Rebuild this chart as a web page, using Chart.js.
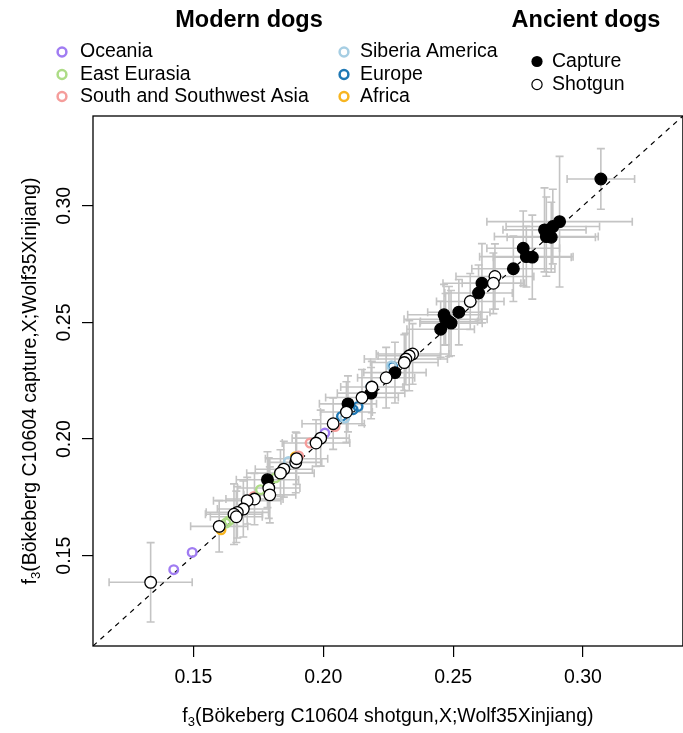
<!DOCTYPE html>
<html>
<head>
<meta charset="utf-8">
<script src="https://cdn.jsdelivr.net/npm/chart.js@4.4.1/dist/chart.umd.min.js"></script>
<style>
  html, body { margin: 0; padding: 0; overflow: hidden; background: #fff; }
  #f3Chart { display: block; }
</style>
</head>
<body>
<canvas id="f3Chart" width="690" height="733"></canvas>
<script>
// tick marks, same on both axes
const tickValues = [0.15, 0.20, 0.25, 0.30];
const tickLabels = ['0.15', '0.20', '0.25', '0.30'];

// ancient dogs typed by capture: x = shotgun f3, y = capture f3, with standard errors
const captureX = [0.3069, 0.2910, 0.2884, 0.2852, 0.2859, 0.2878, 0.2770, 0.2782, 0.2805, 0.2732, 0.2611,
  0.2598, 0.2522, 0.2465, 0.2484, 0.2452, 0.2471, 0.2492, 0.2276, 0.2184, 0.2095, 0.1785];
const captureY = [0.3115, 0.2932, 0.2911, 0.2897, 0.2868, 0.2865, 0.2818, 0.2782, 0.2780, 0.2730, 0.2668,
  0.2626, 0.2544, 0.2533, 0.2504, 0.2471, 0.2514, 0.2497, 0.2285, 0.2197, 0.2151, 0.1826];
const captureXErr = [0.013, 0.028, 0.018, 0.016, 0.020, 0.017, 0.014, 0.018, 0.015, 0.016, 0.015,
  0.013, 0.012, 0.014, 0.011, 0.013, 0.016, 0.012, 0.012, 0.013, 0.011, 0.012];
const captureYErr = [0.013, 0.028, 0.016, 0.018, 0.017, 0.015, 0.016, 0.013, 0.018, 0.014, 0.017,
  0.012, 0.014, 0.013, 0.015, 0.012, 0.011, 0.014, 0.013, 0.011, 0.012, 0.012];

// ancient dogs typed by shotgun
const shotgunX = [0.2661, 0.2655, 0.2566, 0.2344, 0.2331, 0.2318, 0.2312, 0.2242, 0.2187, 0.2149, 0.2089,
  0.2038, 0.1990, 0.1972, 0.1894, 0.1897, 0.1848, 0.1835, 0.1790, 0.1794, 0.1735, 0.1707, 0.1692,
  0.1669, 0.1656, 0.1665, 0.1599, 0.1335];
const shotgunY = [0.2697, 0.2668, 0.2590, 0.2365, 0.2357, 0.2343, 0.2328, 0.2263, 0.2223, 0.2178, 0.2116,
  0.2066, 0.2004, 0.1983, 0.1900, 0.1916, 0.1871, 0.1854, 0.1790, 0.1761, 0.1743, 0.1736, 0.1700,
  0.1686, 0.1678, 0.1667, 0.1626, 0.1386];
const shotgunXErr = [0.015, 0.012, 0.013, 0.014, 0.012, 0.016, 0.013, 0.011, 0.012, 0.014, 0.010,
  0.012, 0.011, 0.013, 0.010, 0.012, 0.011, 0.013, 0.012, 0.010, 0.011, 0.013, 0.010,
  0.012, 0.011, 0.010, 0.011, 0.016];
const shotgunYErr = [0.014, 0.013, 0.012, 0.013, 0.015, 0.011, 0.012, 0.013, 0.011, 0.012, 0.013,
  0.011, 0.012, 0.010, 0.013, 0.011, 0.012, 0.010, 0.013, 0.012, 0.011, 0.010, 0.012,
  0.011, 0.013, 0.011, 0.011, 0.017];

// modern dogs by region
const oceaniaX = [0.1424, 0.1495, 0.2006];
const oceaniaY = [0.1440, 0.1514, 0.2026];
const eastEurasiaX = [0.1625, 0.1637, 0.1758, 0.1816];
const eastEurasiaY = [0.1640, 0.1650, 0.1783, 0.1834];
const southAsiaX = [0.1733, 0.1905, 0.1949, 0.2045];
const southAsiaY = [0.1754, 0.1928, 0.1983, 0.2054];
const siberiaAmericaX = [0.1866, 0.2083, 0.2263];
const siberiaAmericaY = [0.1904, 0.2090, 0.2314];
const europeX = [0.2070, 0.2115, 0.2134, 0.2184, 0.2267];
const europeY = [0.2097, 0.2126, 0.2140, 0.2225, 0.2311];
const africaX = [0.1606, 0.1892];
const africaY = [0.1611, 0.1924];

const modernRegions = ['Oceania', 'East Eurasia', 'South and Southwest Asia', 'Siberia America', 'Europe', 'Africa'];
const modernColors = ['#a07cf2', '#addc86', '#f59d9b', '#a6cee3', '#1f78b4', '#f7b521'];
const modernXs = [oceaniaX, eastEurasiaX, southAsiaX, siberiaAmericaX, europeX, africaX];
const modernYs = [oceaniaY, eastEurasiaY, southAsiaY, siberiaAmericaY, europeY, africaY];

const axisMin = 0.1113;
const axisMax = 0.3385;
const FONT = '"Liberation Sans", Arial, Helvetica, sans-serif';

function ancientPoints(xs, ys, xErr, yErr) {
  return xs.map((x, i) => ({ x, y: ys[i], xErr: xErr[i], yErr: yErr[i] }));
}

const errorBarPlugin = {
  id: 'errorBars',
  beforeDatasetsDraw(chart) {
    const { ctx } = chart;
    const xs = chart.scales.x;
    const ys = chart.scales.y;
    const cap = 4;

    ctx.save();
    ctx.strokeStyle = '#c4c4c4';
    ctx.lineWidth = 1.6;
    chart.data.datasets.forEach((ds) => {
      if (!ds.errorBars) {
        return;
      }
      ds.data.forEach((p) => {
        const px = xs.getPixelForValue(p.x);
        const py = ys.getPixelForValue(p.y);
        const left = xs.getPixelForValue(p.x - p.xErr);
        const right = xs.getPixelForValue(p.x + p.xErr);
        const top = ys.getPixelForValue(p.y + p.yErr);
        const bottom = ys.getPixelForValue(p.y - p.yErr);

        ctx.beginPath();
        ctx.moveTo(left, py); ctx.lineTo(right, py);
        ctx.moveTo(left, py - cap); ctx.lineTo(left, py + cap);
        ctx.moveTo(right, py - cap); ctx.lineTo(right, py + cap);
        ctx.moveTo(px, top); ctx.lineTo(px, bottom);
        ctx.moveTo(px - cap, top); ctx.lineTo(px + cap, top);
        ctx.moveTo(px - cap, bottom); ctx.lineTo(px + cap, bottom);
        ctx.stroke();
      });
    });
    ctx.restore();
  },
};

// f3(...) label with a subscript 3, centred on the current origin
function drawF3Title(ctx, text) {
  const mainFont = '19.5px ' + FONT;
  const subFont = '13px ' + FONT;
  ctx.font = mainFont;
  const wF = ctx.measureText('f').width;
  const wRest = ctx.measureText(text).width;
  ctx.font = subFont;
  const wSub = ctx.measureText('3').width;
  let x = -(wF + wSub + wRest) / 2;

  ctx.textAlign = 'left';
  ctx.textBaseline = 'middle';
  ctx.font = mainFont;
  ctx.fillText('f', x, 0);
  x += wF;
  ctx.font = subFont;
  ctx.fillText('3', x, 5);
  x += wSub;
  ctx.font = mainFont;
  ctx.fillText(text, x, 0);
}

function drawRing(ctx, x, y, r, color, lw) {
  ctx.beginPath();
  ctx.arc(x, y, r, 0, Math.PI * 2);
  ctx.strokeStyle = color;
  ctx.lineWidth = lw;
  ctx.stroke();
}

const decorPlugin = {
  id: 'decor',
  afterDraw(chart) {
    const { ctx, chartArea: area } = chart;
    const xs = chart.scales.x;
    const ys = chart.scales.y;

    ctx.save();

    // plot box
    ctx.strokeStyle = '#000';
    ctx.lineWidth = 1.3;
    ctx.strokeRect(area.left, area.top, area.right - area.left, area.bottom - area.top);

    // tick labels
    ctx.fillStyle = '#000';
    ctx.font = '19.5px ' + FONT;
    ctx.textAlign = 'center';
    ctx.textBaseline = 'middle';
    tickValues.forEach((v, i) => {
      ctx.fillText(tickLabels[i], xs.getPixelForValue(v), 678);
      ctx.save();
      ctx.translate(65, ys.getPixelForValue(v));
      ctx.rotate(-Math.PI / 2);
      ctx.fillText(tickLabels[i], 0, 0);
      ctx.restore();
    });

    // axis titles
    ctx.save();
    ctx.translate((area.left + area.right) / 2, 717);
    drawF3Title(ctx, '(Bökeberg C10604 shotgun,X;Wolf35Xinjiang)');
    ctx.restore();

    ctx.save();
    ctx.translate(31, (area.top + area.bottom) / 2);
    ctx.rotate(-Math.PI / 2);
    drawF3Title(ctx, '(Bökeberg C10604 capture,X;Wolf35Xinjiang)');
    ctx.restore();

    // legend headings
    ctx.font = 'bold 23.5px ' + FONT;
    ctx.textAlign = 'center';
    ctx.fillText('Modern dogs', 249, 21);
    ctx.fillText('Ancient dogs', 586, 21);

    // modern dogs legend, two columns of three
    ctx.font = '19.5px ' + FONT;
    ctx.textAlign = 'left';
    const rowY = [52, 74.5, 96.5];
    modernRegions.forEach((name, i) => {
      const col = Math.floor(i / 3);
      const cx = col === 0 ? 62 : 344;
      const tx = col === 0 ? 80 : 360;
      const cy = rowY[i % 3];
      drawRing(ctx, cx, cy, 4.4, modernColors[i], 2.5);
      ctx.fillStyle = '#000';
      ctx.fillText(name, tx, cy);
    });

    // ancient dogs legend
    ctx.beginPath();
    ctx.arc(537, 61.5, 5.6, 0, Math.PI * 2);
    ctx.fillStyle = '#000';
    ctx.fill();
    ctx.beginPath();
    ctx.arc(537, 84.5, 5.1, 0, Math.PI * 2);
    ctx.fillStyle = '#fff';
    ctx.fill();
    ctx.strokeStyle = '#000';
    ctx.lineWidth = 1.2;
    ctx.stroke();
    ctx.fillStyle = '#000';
    ctx.fillText('Capture', 552, 61.5);
    ctx.fillText('Shotgun', 552, 84.5);

    ctx.restore();
  },
};

const modernSets = modernRegions.map((name, i) => ({
  label: name,
  data: modernXs[i].map((x, j) => ({ x, y: modernYs[i][j] })),
  borderColor: modernColors[i],
  backgroundColor: 'rgba(0,0,0,0)',
  pointRadius: 4.3,
  borderWidth: 2.4,
  order: 3,
}));

new Chart(document.getElementById('f3Chart'), {
  type: 'scatter',
  data: {
    datasets: [
      {
        type: 'line',
        label: 'x = y',
        data: [{ x: axisMin, y: axisMin }, { x: axisMax, y: axisMax }],
        borderColor: '#000',
        borderWidth: 1.2,
        borderDash: [5, 5],
        pointRadius: 0,
        fill: false,
        order: 4,
      },
      ...modernSets,
      {
        label: 'Capture',
        data: ancientPoints(captureX, captureY, captureXErr, captureYErr),
        errorBars: true,
        backgroundColor: '#000',
        borderColor: '#000',
        pointRadius: 5.8,
        borderWidth: 1.3,
        order: 2,
      },
      {
        label: 'Shotgun',
        data: ancientPoints(shotgunX, shotgunY, shotgunXErr, shotgunYErr),
        errorBars: true,
        backgroundColor: '#fff',
        borderColor: '#000',
        pointRadius: 5.8,
        borderWidth: 1.3,
        order: 1,
      },
    ],
  },
  options: {
    responsive: false,
    devicePixelRatio: 1,
    animation: false,
    events: [],
    layout: { padding: { top: 116, right: 2, bottom: 0, left: 0 } },
    plugins: {
      legend: { display: false },
      tooltip: { enabled: false },
    },
    scales: {
      x: {
        type: 'linear',
        position: 'bottom',
        min: axisMin,
        max: axisMax,
        afterBuildTicks: (scale) => { scale.ticks = tickValues.map((value) => ({ value })); },
        afterFit: (scale) => { scale.height = 87; },
        ticks: { display: false },
        grid: { drawOnChartArea: false, drawTicks: true, tickLength: 11, tickColor: '#000', lineWidth: 1.2 },
        border: { display: false },
      },
      y: {
        type: 'linear',
        position: 'left',
        min: axisMin,
        max: axisMax,
        afterBuildTicks: (scale) => { scale.ticks = tickValues.map((value) => ({ value })); },
        afterFit: (scale) => { scale.width = 93; },
        ticks: { display: false },
        grid: { drawOnChartArea: false, drawTicks: true, tickLength: 11, tickColor: '#000', lineWidth: 1.2 },
        border: { display: false },
      },
    },
  },
  plugins: [errorBarPlugin, decorPlugin],
});
</script>
</body>
</html>
